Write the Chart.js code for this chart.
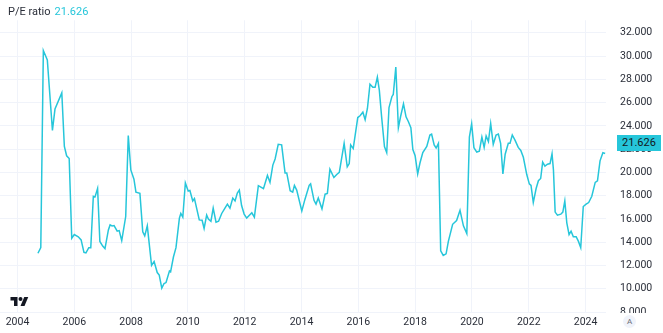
<!DOCTYPE html>
<html>
<head>
<meta charset="utf-8">
<script src="https://cdn.jsdelivr.net/npm/chart.js@4.4.1/dist/chart.umd.min.js"></script>
<style>
    html, body { margin: 0; padding: 0; background: #ffffff; }
    .wrap { position: relative; width: 663px; height: 333px; overflow: hidden; font-family: Roboto, "Liberation Sans", sans-serif; }
    #peChart { position: absolute; left: 0; top: 0; }
    .legend { position: absolute; left: 8px; top: 5px; font-size: 11px; color: #2a2e39; white-space: nowrap; }
    .legend .val { color: #26c6da; margin-left: 4px; }
    .last-label { position: absolute; left: 617px; top: 135px; width: 44px; height: 16px; line-height: 16px; background: #26c6da; color: #131722; font-size: 11px; text-align: center; }
    .corner { position: absolute; left: 606px; top: 313px; width: 57px; height: 20px; background: #ffffff; }
    .auto-btn { position: absolute; left: 623px; top: 315px; width: 13px; height: 13px; border-radius: 50%; background: #f0f3fa; color: #6a6d78; font-size: 8px; line-height: 13px; text-align: center; }
    .logo { position: absolute; left: 10px; top: 295px; }
</style>
</head>
<body>
<div class="wrap">
    <canvas id="peChart" width="663" height="333"></canvas>
    <div class="legend">P/E ratio<span class="val">21.626</span></div>
    <div class="last-label">21.626</div>
    <div class="corner"></div>
    <div class="auto-btn">A</div>
    <svg class="logo" width="19" height="14" viewBox="0 0 36 28">
        <path d="M14 22H7V11H0V4h14v18z" fill="#131722"/>
        <circle cx="20" cy="8" r="4" fill="#131722"/>
        <path d="M28 22h-8l7.5-18h8L28 22z" fill="#131722"/>
    </svg>
</div>

<script>
// Dates as decimal years, P/E values
const years = [
    2004.72, 2004.82, 2004.91, 2005.05, 2005.23, 2005.32, 2005.56, 2005.65, 2005.73, 2005.82,
    2005.91, 2006.00, 2006.14, 2006.24, 2006.34, 2006.41, 2006.51, 2006.58, 2006.67, 2006.73,
    2006.82, 2006.90, 2007.00, 2007.08, 2007.20, 2007.26, 2007.33, 2007.40, 2007.51, 2007.58,
    2007.67, 2007.81, 2007.90, 2007.99, 2008.10, 2008.17, 2008.31, 2008.41, 2008.48, 2008.57,
    2008.72, 2008.81, 2008.92, 2008.99, 2009.08, 2009.16, 2009.23, 2009.35, 2009.39, 2009.49,
    2009.58, 2009.70, 2009.75, 2009.82, 2009.91, 2010.01, 2010.07, 2010.17, 2010.23, 2010.40,
    2010.50, 2010.57, 2010.66, 2010.72, 2010.81, 2010.89, 2010.99, 2011.08, 2011.19, 2011.31,
    2011.39, 2011.48, 2011.58, 2011.66, 2011.74, 2011.81, 2011.89, 2011.98, 2012.07, 2012.25,
    2012.34, 2012.48, 2012.66, 2012.80, 2012.89, 2012.99, 2013.07, 2013.18, 2013.30, 2013.42,
    2013.48, 2013.60, 2013.69, 2013.75, 2013.83, 2014.01, 2014.12, 2014.27, 2014.32, 2014.44,
    2014.51, 2014.59, 2014.72, 2014.83, 2014.91, 2015.00, 2015.14, 2015.24, 2015.33, 2015.50,
    2015.61, 2015.68, 2015.73, 2015.82, 2015.98, 2016.06, 2016.16, 2016.24, 2016.32, 2016.41,
    2016.51, 2016.59, 2016.67, 2016.74, 2016.82, 2016.92, 2017.00, 2017.08, 2017.18, 2017.23,
    2017.32, 2017.41, 2017.49, 2017.59, 2017.68, 2017.76, 2017.85, 2017.92, 2018.00, 2018.09,
    2018.17, 2018.27, 2018.41, 2018.52, 2018.58, 2018.67, 2018.74, 2018.82, 2018.90, 2018.99,
    2019.09, 2019.17, 2019.32, 2019.46, 2019.58, 2019.70, 2019.82, 2019.91, 2019.99, 2020.07,
    2020.17, 2020.26, 2020.35, 2020.43, 2020.50, 2020.58, 2020.66, 2020.75, 2020.85, 2020.93,
    2021.01, 2021.09, 2021.17, 2021.28, 2021.34, 2021.42, 2021.52, 2021.63, 2021.72, 2021.81,
    2021.93, 2022.02, 2022.08, 2022.16, 2022.26, 2022.34, 2022.42, 2022.49, 2022.57, 2022.66,
    2022.75, 2022.82, 2022.87, 2022.93, 2023.01, 2023.13, 2023.20, 2023.27, 2023.34, 2023.42,
    2023.49, 2023.57, 2023.67, 2023.75, 2023.83, 2023.92, 2024.02, 2024.11, 2024.22, 2024.34,
    2024.42, 2024.51, 2024.61, 2024.69
];

const peValues = [
    13.05, 13.53, 30.48, 29.68, 23.62, 25.45, 26.84, 22.23, 21.43, 21.20,
    14.34, 14.66, 14.47, 14.20, 13.13, 13.08, 13.53, 13.53, 17.95, 17.90,
    18.62, 14.07, 13.67, 13.45, 15.06, 15.49, 15.40, 15.43, 14.95, 15.00,
    14.14, 16.21, 23.17, 20.22, 19.42, 18.30, 18.20, 14.90, 14.55, 15.41,
    12.00, 12.33, 11.39, 11.17, 10.05, 10.45, 10.53, 11.53, 11.45, 12.73,
    13.53, 16.07, 16.47, 16.15, 19.10, 18.40, 18.45, 17.55, 17.76, 15.92,
    15.89, 15.19, 16.33, 15.99, 15.80, 16.93, 15.72, 15.80, 16.47, 16.96,
    17.28, 16.93, 17.80, 17.55, 18.22, 18.48, 17.15, 16.42, 16.07, 16.53,
    16.15, 18.86, 18.60, 19.74, 19.14, 20.63, 21.16, 22.42, 22.37, 19.96,
    19.96, 18.43, 18.30, 18.89, 18.48, 16.69, 17.68, 18.89, 19.02, 17.60,
    17.28, 17.81, 16.87, 18.13, 18.20, 20.28, 19.56, 19.82, 20.01, 22.50,
    20.49, 20.76, 22.37, 22.05, 24.72, 24.87, 25.18, 24.53, 25.50, 27.59,
    27.32, 27.32, 28.20, 27.05, 24.78, 22.23, 21.70, 25.58, 26.51, 26.70,
    29.06, 23.84, 24.83, 25.90, 24.78, 24.38, 23.84, 21.97, 21.43, 19.88,
    20.81, 21.70, 22.23, 23.22, 23.30, 22.37, 22.10, 22.50, 13.26, 12.86,
    13.00, 14.07, 15.54, 15.86, 16.75, 15.41, 14.74, 23.04, 24.19, 22.13,
    21.75, 21.83, 23.04, 22.15, 23.14, 22.66, 24.21, 22.42, 23.22, 23.30,
    22.50, 19.88, 21.57, 22.50, 22.50, 23.22, 22.76, 22.15, 21.89, 21.30,
    19.82, 19.02, 18.89, 17.41, 18.62, 19.29, 19.48, 20.89, 20.55, 20.71,
    20.76, 21.60, 20.20, 16.59, 16.33, 16.41, 16.59, 17.55, 15.67, 14.66,
    14.95, 14.47, 14.47, 14.07, 13.53, 17.07, 17.28, 17.41, 17.95, 19.14,
    19.27, 21.00, 21.70, 21.626
];

const xTicks = [2004, 2006, 2008, 2010, 2012, 2014, 2016, 2018, 2020, 2022, 2024];
const yTicks = [8, 10, 12, 14, 16, 18, 20, 22, 24, 26, 28, 30, 32];

const lineColor = '#26c6da';
const gridColor = '#f0f3fa';
const textColor = '#2a2e39';

const points = years.map((y, i) => ({ x: y, y: peValues[i] }));

const ctx = document.getElementById('peChart').getContext('2d');

const peChart = new Chart(ctx, {
    type: 'line',
    data: {
        datasets: [{
            label: 'P/E ratio',
            data: points,
            borderColor: lineColor,
            borderWidth: 1.5,
            pointRadius: 0,
            tension: 0,
            fill: false
        }]
    },
    options: {
        responsive: false,
        animation: false,
        devicePixelRatio: 1,
        layout: { padding: 0 },
        plugins: {
            legend: { display: false },
            tooltip: { enabled: false }
        },
        scales: {
            x: {
                type: 'linear',
                min: 2003.384,
                max: 2024.72,
                afterBuildTicks: function (axis) {
                    axis.ticks = xTicks.map(v => ({ value: v }));
                },
                afterFit: function (axis) {
                    axis.height = 20;
                },
                ticks: {
                    autoSkip: false,
                    maxRotation: 0,
                    padding: 3,
                    color: textColor,
                    font: { family: 'Roboto', size: 10.5 },
                    callback: function (value) {
                        return String(value);
                    }
                },
                grid: { color: gridColor, drawTicks: false },
                border: { display: false }
            },
            y: {
                position: 'right',
                min: 7.94,
                max: 33.08,
                afterBuildTicks: function (axis) {
                    axis.ticks = yTicks.map(v => ({ value: v }));
                },
                afterFit: function (axis) {
                    axis.width = 57;
                },
                ticks: {
                    padding: 14,
                    color: textColor,
                    font: { family: 'Roboto', size: 10.5 },
                    callback: function (value) {
                        return value.toFixed(3);
                    }
                },
                grid: { color: gridColor, drawTicks: false },
                border: { display: false }
            }
        }
    }
});
</script>
</body>
</html>
